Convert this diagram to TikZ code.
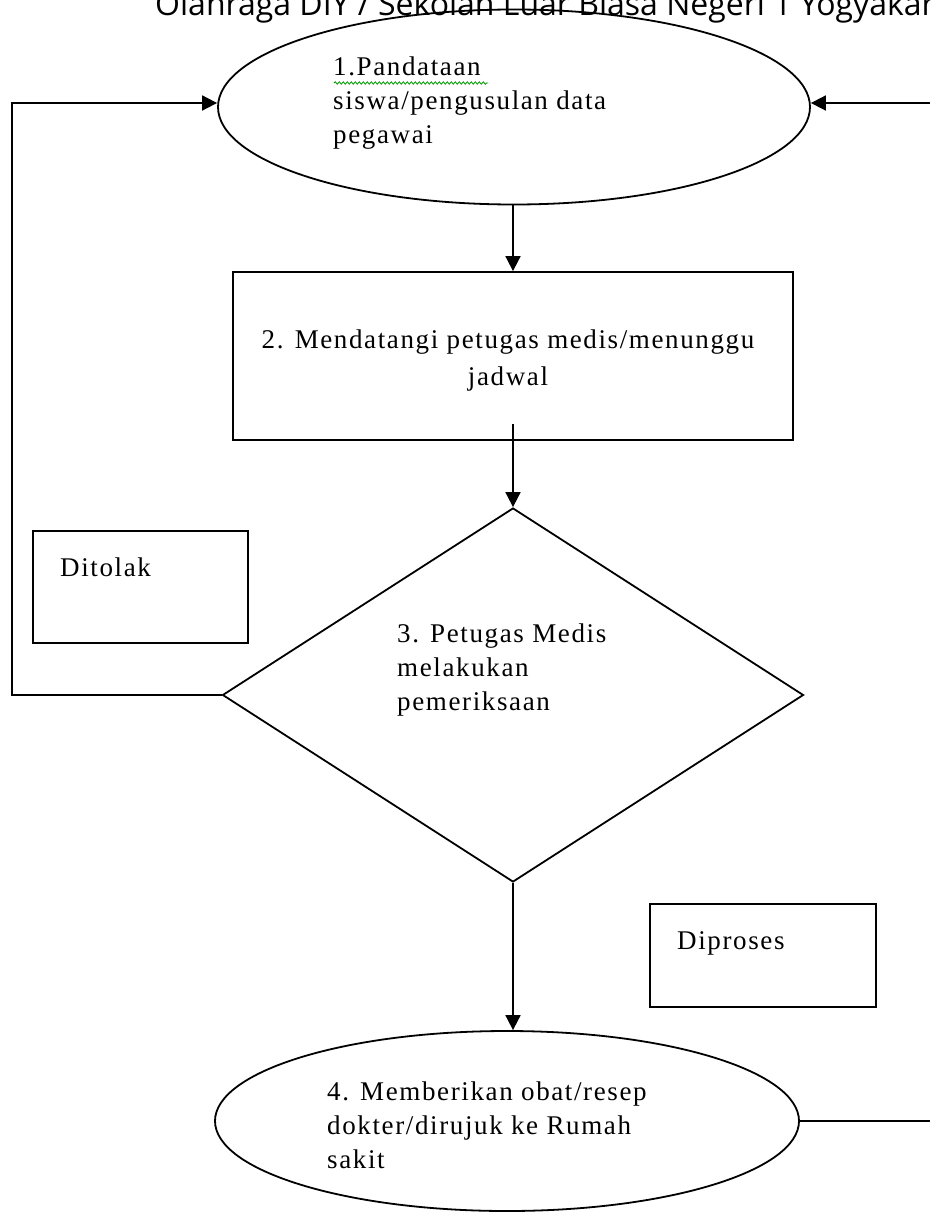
\documentclass[tikz,border=0pt]{standalone}
\usepackage{fontspec}
\setmainfont{Liberation Serif}
\newfontfamily\titlefont{Open Sans}
\newfontfamily\wordfont[LetterSpace=6]{Liberation Serif}
\usetikzlibrary{shapes.geometric,arrows.meta,decorations.pathmorphing}
\begin{document}
\begin{tikzpicture}[x=1pt,y=-1pt,
  shapeline/.style={draw=black,line width=1.8pt,inner sep=0pt},
  conn/.style={line width=1.8pt,-{Triangle[length=15pt,width=15pt]}},
  plain/.style={line width=1.8pt},
  txt/.style={font=\wordfont\fontsize{27}{34}\selectfont,align=left,inner sep=0pt,anchor=north west},
  lbl/.style={font=\wordfont\fontsize{27}{34}\selectfont,inner sep=0pt,anchor=base west}]
\useasboundingbox (0,0) rectangle (930,1217);
\fill[white] (0,0) rectangle (930,1217);
% title (cut off at top edge)
\node[font=\titlefont\fontsize{32}{32}\selectfont,anchor=base west,inner sep=0pt] (title) at (155,16) {Olahraga DIY / Sekolah Luar Biasa Negeri 1 Yogyakarta};
% shapes
\node[shapeline,ellipse,minimum width=592pt,minimum height=195pt] (e1) at (514,107) {};
\node[shapeline,rectangle,minimum width=560pt,minimum height=168pt] (b2) at (513,356) {};
\node[shapeline,diamond,minimum width=581pt,minimum height=374pt] (d3) at (513,695) {};
\node[shapeline,ellipse,minimum width=584pt,minimum height=180pt] (e4) at (507,1121) {};
\node[shapeline,rectangle,minimum width=215pt,minimum height=112pt] (tolak) at (140.5,587) {};
\node[shapeline,rectangle,minimum width=226pt,minimum height=103pt] (proses) at (763,955.5) {};
% texts
\node[txt] (t1) at (333,57) {1.Pandataan\\siswa/pengusulan data\\pegawai};
\draw[green!60!black,line width=0.8pt,decorate,decoration={snake,amplitude=1.2pt,segment length=4pt}] (334,83) -- (488,83);
\node[txt,align=center,anchor=north,font=\wordfont\fontsize{27}{37}\selectfont] (t2) at (508,330) {2. Mendatangi petugas medis/menunggu\\jadwal};
\node[txt] (t3) at (397,624) {3. Petugas Medis\\melakukan\\pemeriksaan};
\node[txt] (t4) at (327,1082) {4. Memberikan obat/resep\\dokter/dirujuk ke Rumah\\sakit};
\node[lbl] (tt) at (60,576) {Ditolak};
\node[lbl] (tp) at (677,949) {Diproses};
% free ends
\coordinate (lx) at (12,0);
\coordinate (r1) at (930,103);
\coordinate (r4) at (930,1127);
% connectors
\draw[conn] (e1.south -| b2.north) -- (b2.north);
\draw[conn] ([yshift=17pt]b2.south) -- (b2.south |- d3.north);
\draw[conn] (d3.west) -- (d3.west -| lx) |- ([yshift=4pt]e1.west);
\draw[conn] (r1) -- ([yshift=4pt]e1.east);
\draw[conn] (d3.south) -- (d3.south |- e4.north);
\draw[plain] (e4.east) -- (e4.east -| r4);
\end{tikzpicture}
\end{document}
